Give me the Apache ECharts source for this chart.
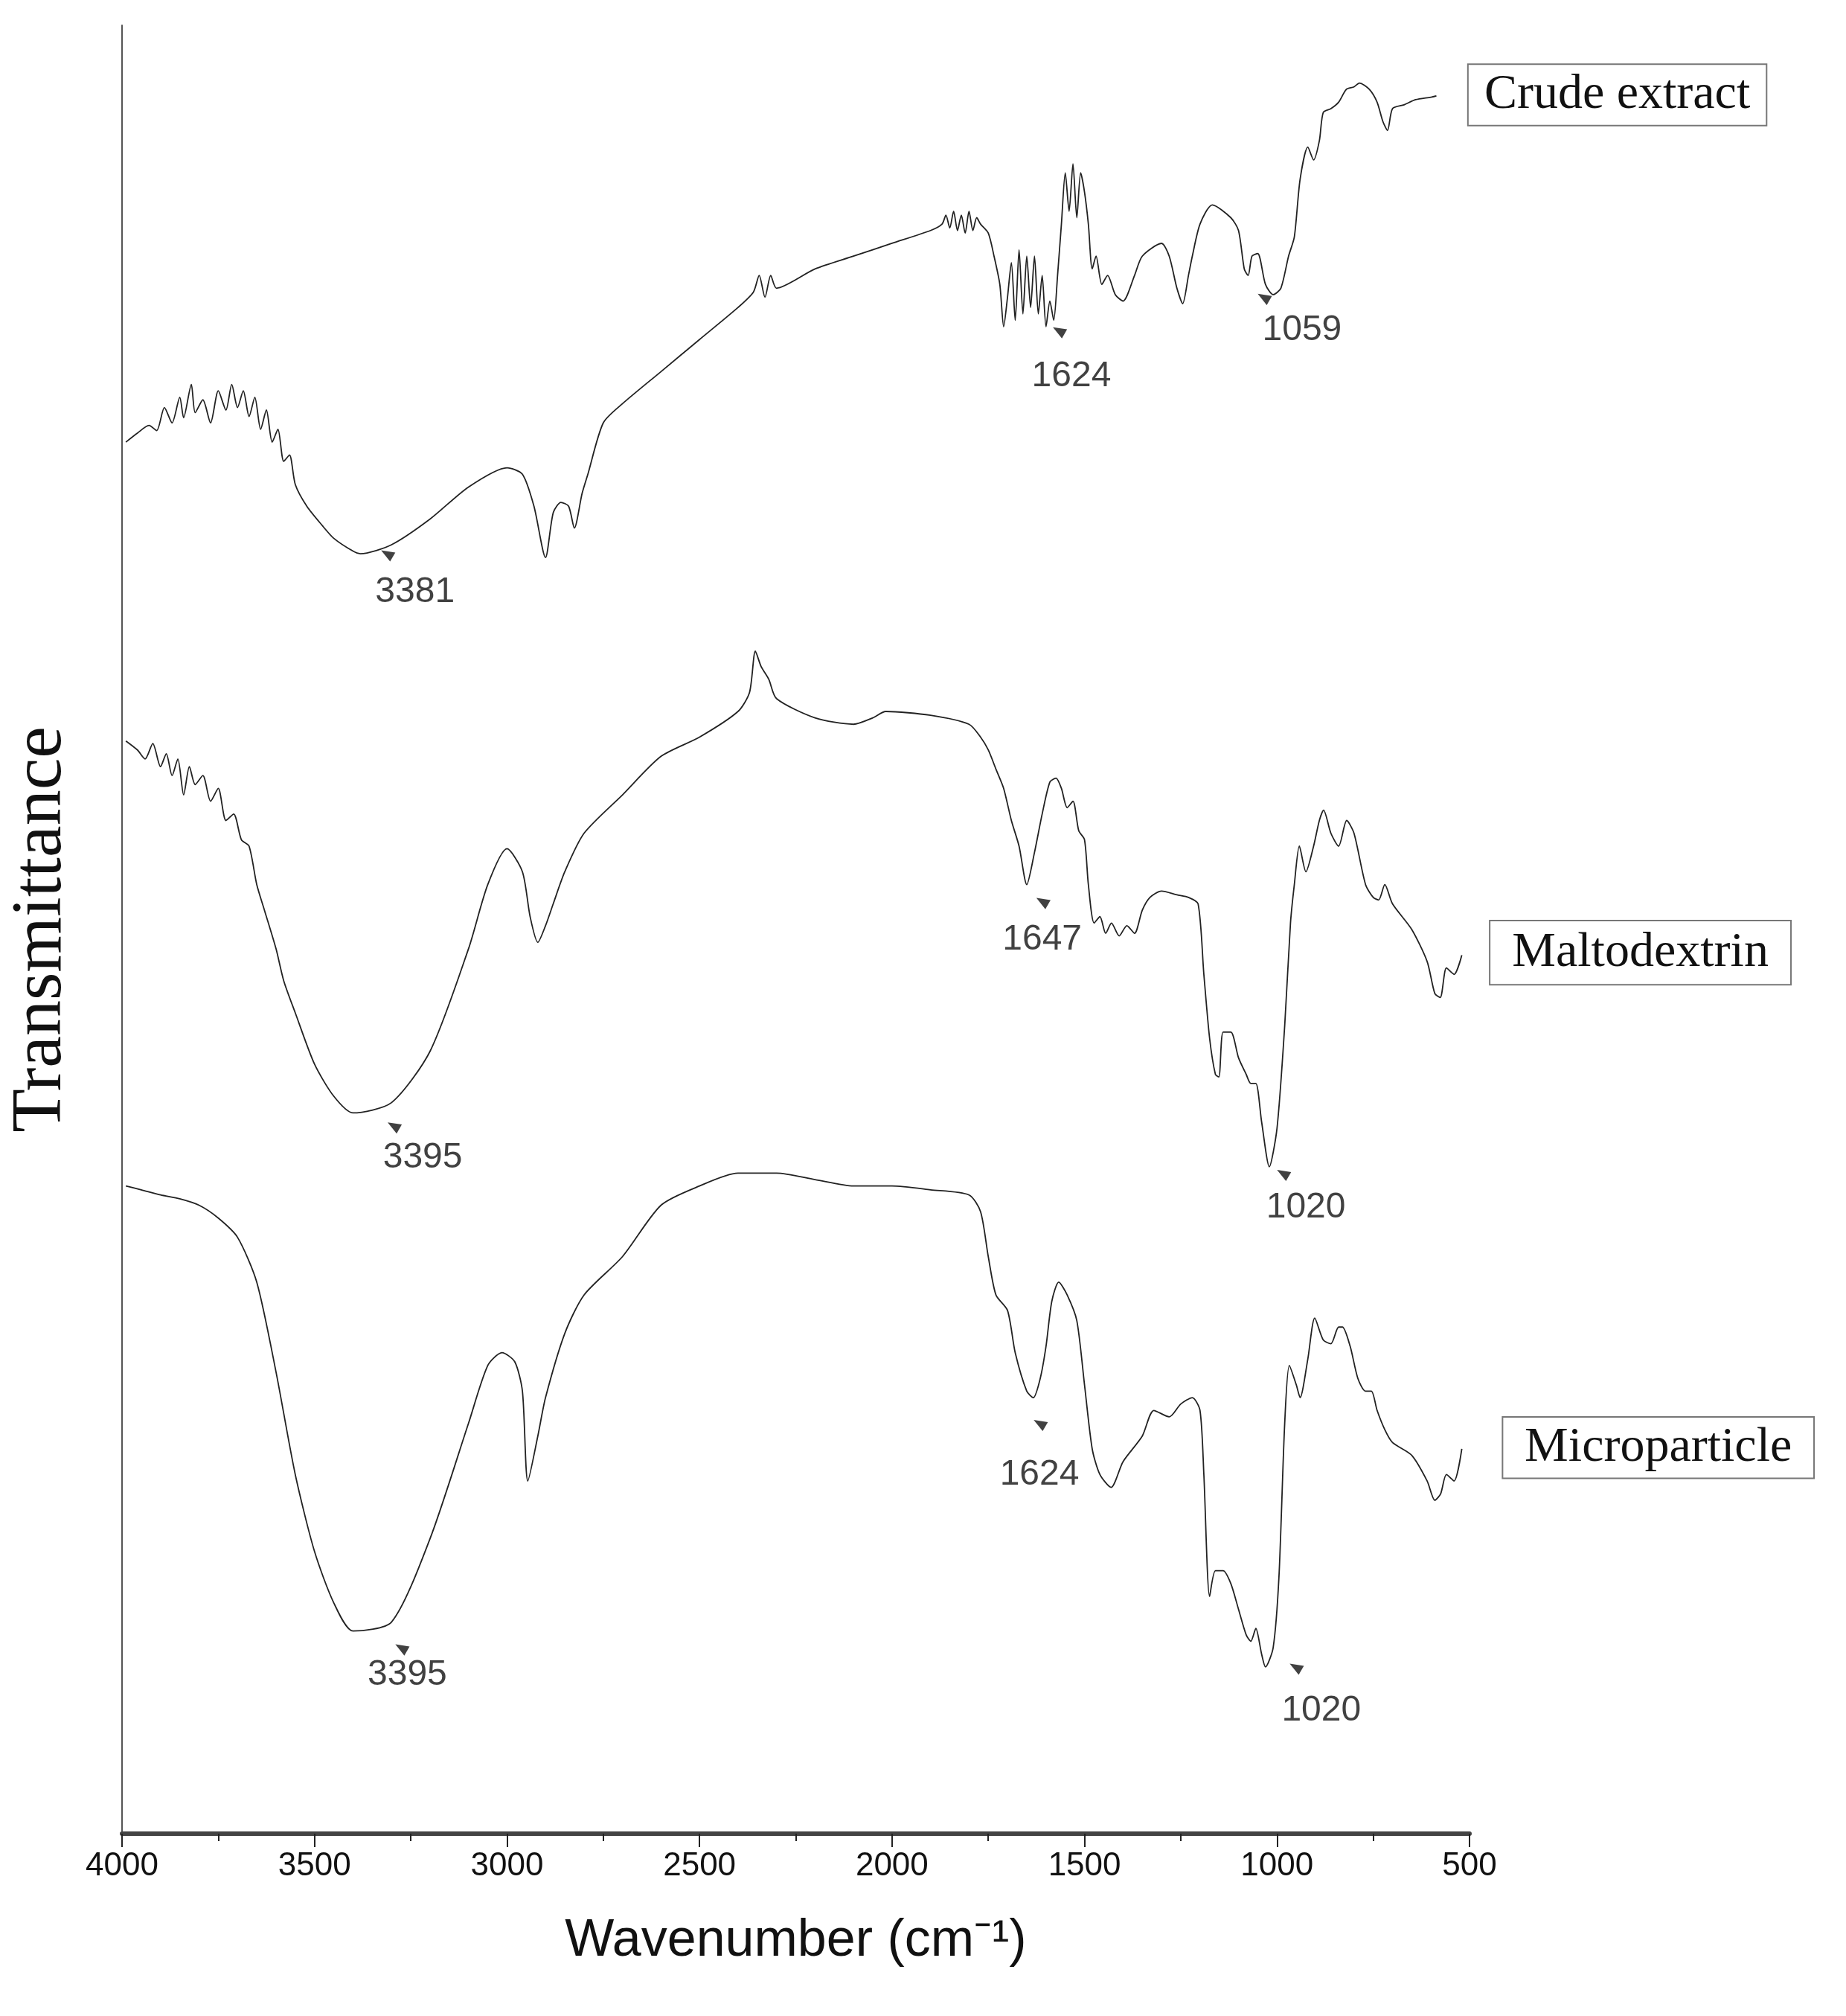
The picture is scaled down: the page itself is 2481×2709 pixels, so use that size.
<!DOCTYPE html>
<html><head><meta charset="utf-8">
<script src="https://cdn.jsdelivr.net/npm/echarts@6/dist/echarts.min.js"></script>
<style>html,body{margin:0;background:#fff}#c{width:2481px;height:2709px}</style>
</head><body><div id="c"></div>
<script>
// offset transmittance, in plot units (larger = lower on the page)
const crude = [[3990,345],[3960,338],[3930,332],[3910,336],[3890,318],[3870,330],[3850,310],[3840,326],[3820,300],[3810,322],[3790,312],[3770,330],[3750,305],[3730,320],[3715,300],[3700,318],[3685,305],[3670,325],[3655,310],[3640,335],[3625,320],[3610,345],[3595,335],[3580,360],[3565,355],[3550,378],[3520,395],[3480,410],[3450,420],[3400,430],[3381,432],[3300,425],[3200,405],[3100,380],[3000,365],[2960,370],[2930,395],[2900,435],[2880,400],[2860,392],[2840,395],[2825,412],[2805,385],[2790,370],[2750,330],[2700,315],[2600,290],[2500,265],[2400,240],[2360,228],[2345,215],[2330,232],[2315,215],[2300,225],[2200,210],[2100,200],[2000,190],[1900,180],[1870,175],[1860,168],[1850,178],[1840,165],[1830,180],[1820,168],[1810,182],[1800,165],[1790,180],[1780,170],[1770,175],[1750,182],[1735,200],[1720,222],[1710,255],[1700,232],[1690,205],[1680,250],[1670,195],[1660,245],[1650,200],[1640,240],[1630,200],[1620,245],[1610,215],[1600,255],[1590,235],[1580,250],[1570,215],[1560,175],[1550,135],[1540,165],[1530,128],[1520,170],[1510,135],[1500,150],[1490,175],[1480,210],[1470,200],[1455,222],[1440,215],[1420,230],[1400,235],[1370,215],[1350,200],[1300,190],[1280,200],[1260,225],[1245,237],[1230,215],[1220,200],[1200,175],[1168,160],[1120,170],[1100,180],[1085,210],[1075,215],[1065,200],[1050,198],[1030,222],[1010,230],[990,225],[970,200],[955,185],[940,140],[920,115],[905,125],[890,110],[880,88],[860,85],[840,80],[820,70],[800,68],[786,65],[760,70],[740,80],[725,95],[713,102],[700,85],[670,82],[640,78],[600,76],[586,75]];
const malto = [[3990,578],[3960,585],[3940,592],[3920,580],[3900,598],[3885,588],[3870,605],[3855,592],[3840,620],[3825,598],[3810,612],[3790,605],[3770,625],[3750,615],[3730,640],[3710,635],[3690,655],[3670,660],[3650,690],[3630,710],[3600,740],[3580,765],[3550,790],[3500,830],[3450,855],[3400,868],[3300,860],[3200,820],[3100,740],[3050,690],[3000,662],[2960,680],[2940,715],[2920,735],[2900,722],[2880,705],[2850,680],[2800,650],[2700,620],[2600,590],[2500,575],[2400,555],[2370,540],[2355,508],[2340,520],[2320,530],[2300,545],[2200,560],[2100,565],[2050,560],[2016,555],[1900,558],[1800,565],[1770,575],[1750,585],[1730,600],[1710,615],[1690,640],[1670,660],[1650,690],[1630,665],[1610,635],[1590,610],[1574,607],[1560,615],[1545,630],[1530,625],[1515,648],[1500,655],[1490,690],[1475,720],[1460,715],[1445,728],[1430,720],[1410,730],[1390,722],[1370,728],[1350,710],[1330,700],[1300,695],[1260,698],[1230,700],[1205,705],[1190,760],[1175,810],[1160,838],[1151,840],[1140,805],[1120,805],[1100,825],[1080,838],[1068,845],[1055,845],[1040,875],[1020,910],[1000,880],[980,800],[965,720],[955,690],[942,660],[925,680],[905,660],[890,640],[879,632],[860,650],[840,660],[819,640],[800,650],[770,690],[750,700],[736,702],[720,690],[700,705],[650,725],[610,750],[590,775],[576,778],[560,755],[540,760],[520,745]];
const micro = [[3990,925],[3950,928],[3900,932],[3850,935],[3800,940],[3750,950],[3700,965],[3650,1000],[3600,1070],[3550,1150],[3500,1210],[3450,1250],[3400,1272],[3300,1265],[3200,1200],[3100,1110],[3050,1065],[3013,1055],[2980,1062],[2960,1085],[2946,1155],[2920,1120],[2900,1090],[2850,1040],[2800,1010],[2700,980],[2600,940],[2500,925],[2400,915],[2300,915],[2200,920],[2100,925],[2000,925],[1900,928],[1800,932],[1770,945],[1750,980],[1730,1010],[1700,1022],[1680,1055],[1650,1085],[1633,1090],[1615,1075],[1600,1050],[1585,1015],[1567,1000],[1545,1010],[1520,1030],[1500,1080],[1480,1130],[1460,1150],[1431,1160],[1400,1140],[1350,1120],[1320,1100],[1280,1105],[1250,1095],[1220,1090],[1200,1100],[1190,1150],[1175,1245],[1160,1225],[1140,1225],[1120,1235],[1100,1255],[1080,1275],[1068,1280],[1055,1270],[1040,1290],[1030,1300],[1010,1285],[995,1230],[980,1110],[968,1065],[950,1080],[940,1090],[920,1060],[902,1028],[880,1045],[860,1048],[840,1035],[830,1035],[810,1050],[790,1075],[770,1085],[755,1085],[740,1100],[720,1115],[700,1125],[650,1135],[610,1155],[590,1170],[575,1165],[560,1150],[540,1155],[520,1130]];
// peak annotations: [arrow x, arrow y, text x, text y, label]
const peaks = [[3312,432,3239,462,'3381'],[1567,258,1534,294,'1624'],[1035,232,935,258,'1059'],
  [3295,878,3219,903,'3395'],[1610,703,1610,733,'1647'],[985,915,925,942,'1020'],
  [3275,1285,3259,1306,'3395'],[1617,1110,1617,1150,'1624'],[952,1300,885,1334,'1020']];

const k = 1.723;
const chart = echarts.init(document.getElementById('c'));
const line = d => ({type:'line', data:d, showSymbol:false, symbol:'none', smooth:0.25,
  lineStyle:{color:'#222', width:1.8}, silent:true, animation:false});
const boxes = [['Crude extract',1145,50,233,48],['Maltodextrin',1162,718,235,50],['Microparticle',1172,1105,243,48]];
chart.setOption({
  animation:false,
  grid:{left:152, right:506, top:34, bottom:245},
  xAxis:{type:'value', inverse:true, min:500, max:4000, interval:500,
    axisLine:{lineStyle:{color:'#444', width:6}},
    axisTick:{length:18, lineStyle:{color:'#222', width:2}},
    minorTick:{show:true, splitNumber:2, length:10, lineStyle:{color:'#222', width:2}},
    splitLine:{show:false},
    axisLabel:{fontSize:44, color:'#111', margin:22, fontFamily:'Liberation Sans', formatter:v=>String(v)},
    name:'Wavenumber (cm⁻¹)', nameLocation:'middle', nameGap:110,
    nameTextStyle:{fontSize:70, color:'#111', fontFamily:'Liberation Sans'}},
  yAxis:{type:'value', inverse:true, min:20, max:1430,
    axisLine:{show:true, lineStyle:{color:'#555', width:2}}, axisTick:{show:false},
    axisLabel:{show:false}, splitLine:{show:false},
    name:'Transmittance', nameLocation:'middle', nameGap:60,
    nameTextStyle:{fontSize:96, color:'#111', fontFamily:'Liberation Serif'}},
  series:[line(crude), line(malto), line(micro),
    {type:'scatter', data:peaks.map(p=>[p[0],p[1]]), symbol:'triangle', symbolSize:[14,18],
      symbolRotate:60, itemStyle:{color:'#111'}, silent:true},
    {type:'scatter', data:peaks.map(p=>({value:[p[2],p[3]], name:p[4]})), symbolSize:0, silent:true,
      label:{show:true, position:'inside', formatter:'{b}', fontSize:48, color:'#111', fontFamily:'Liberation Sans'}}],
  graphic: boxes.map(b=>({type:'group', children:[
    {type:'rect', shape:{x:b[1]*k, y:b[2]*k, width:b[3]*k, height:b[4]*k}, style:{fill:'#fff', stroke:'#777', lineWidth:2}},
    {type:'text', x:(b[1]+b[3]/2)*k, y:(b[2]+b[4]/2)*k, style:{text:b[0], fontSize:66, fontFamily:'Liberation Serif', fill:'#111', align:'center', verticalAlign:'middle'}}]}))
});
</script></body></html>
